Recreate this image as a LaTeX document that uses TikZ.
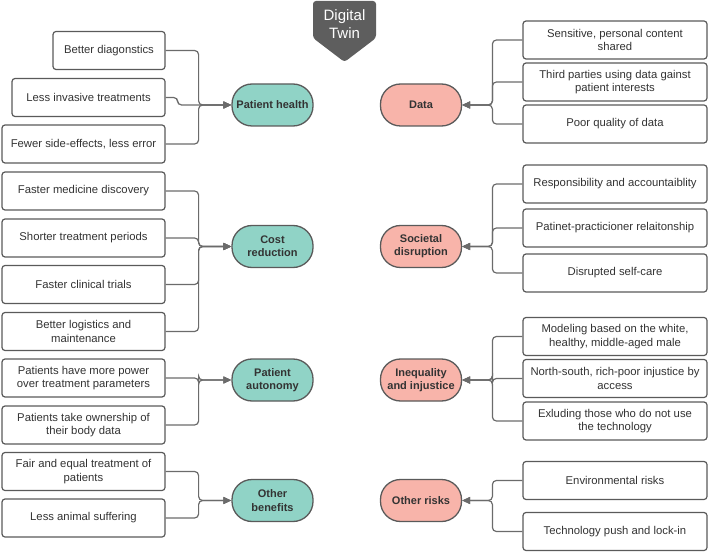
\documentclass[tikz,border=0pt]{standalone}
\usepackage{fontspec}
\setmainfont{Liberation Sans}
\usetikzlibrary{arrows.meta}
\definecolor{teal1}{HTML}{90D3C6}
\definecolor{pink1}{HTML}{F8B4AA}
\definecolor{edge}{HTML}{5A5A5A}
\definecolor{txt}{HTML}{333333}
\definecolor{dt}{HTML}{5E5E5E}
\begin{document}
\begin{tikzpicture}[x=1pt,y=-1pt,
 box/.style={draw=edge, line width=1.2pt, rounded corners=3pt, fill=white, minimum height=38pt, align=center, text=txt, font=\fontsize{11.3}{13.3}\selectfont, inner sep=2pt},
 lbox/.style={box, minimum width=163pt},
 rbox/.style={box, minimum width=184pt},
 pill/.style={draw=edge, line width=1.3pt, rounded corners=20pt, minimum width=81pt, minimum height=42pt, align=center, text=txt, font=\fontsize{11}{13.3}\selectfont\bfseries, inner sep=1pt},
 good/.style={pill, fill=teal1},
 bad/.style={pill, fill=pink1},
 conn/.style={draw=edge!90, line width=1.2pt, rounded corners=4pt, -{Triangle[length=8pt,width=7pt]}},
]
\useasboundingbox (0,0) rectangle (709,553);

% Digital Twin
\fill[dt, rounded corners=3pt] (313,38) -- (313,1) -- (376,1) -- (376,38) -- (344.5,62) -- cycle;
\node[text=white, align=center, font=\fontsize{15}{18}\selectfont] (dtw) at (344.5,24) {Digital\\Twin};

% pills
\node[good] (ph) at (272.5,105) {Patient health};
\node[good] (cr) at (272.5,246.5) {Cost\\reduction};
\node[good] (pa) at (272.5,380) {Patient\\autonomy};
\node[good] (ob) at (272.5,500.5) {Other\\benefits};
\node[bad] (da) at (421,105) {Data};
\node[bad] (sd) at (421,246.5) {Societal\\disruption};
\node[bad] (ii) at (421,380) {Inequality\\and injustice};
\node[bad] (or) at (421,500.5) {Other risks};

% left boxes
\node[box, minimum width=112pt] (l1) at (109,50.5) {Better diagonstics};
\node[box, minimum width=153pt] (l2) at (88.5,97.5) {Less invasive treatments};
\node[lbox] (l3) at (83.5,144) {Fewer side-effects, less error};
\node[lbox] (c1) at (83.5,191) {Faster medicine discovery};
\node[lbox] (c2) at (83.5,238) {Shorter treatment periods};
\node[lbox] (c3) at (83.5,284.5) {Faster clinical trials};
\node[lbox] (c4) at (83.5,331.5) {Better logistics and\\maintenance};
\node[lbox] (a1) at (83.5,378) {Patients have more power\\over treatment parameters};
\node[lbox] (a2) at (83.5,425) {Patients take ownership of\\their body data};
\node[lbox] (o1) at (83.5,471.5) {Fair and equal treatment of\\patients};
\node[lbox] (o2) at (83.5,518) {Less animal suffering};

% right boxes
\node[rbox] (d1) at (615,40) {Sensitive, personal content\\shared};
\node[rbox] (d2) at (615,82) {Third parties using data gainst\\patient interests};
\node[rbox] (d3) at (615,124) {Poor quality of data};
\node[rbox] (s1) at (615,184) {Responsibility and accountaiblity};
\node[rbox] (s2) at (615,228) {Patinet-practicioner relaitonship};
\node[rbox] (s3) at (615,273) {Disrupted self-care};
\node[rbox] (i1) at (615,336.5) {Modeling based on the white,\\healthy, middle-aged male};
\node[rbox] (i2) at (615,378.5) {North-south, rich-poor injustice by\\access};
\node[rbox] (i3) at (615,421) {Exluding those who do not use\\the technology};
\node[rbox] (r1) at (615,480.5) {Environmental risks};
\node[rbox] (r2) at (615,531.5) {Technology push and lock-in};

% left connectors
\draw[conn] (l1.east) -- ++(33,0) |- (ph.west);
\draw[conn] (l2.east) -- ++(12,0) |- (ph.west);
\draw[conn] (l3.east) -- ++(33,0) |- (ph.west);
\foreach \n in {c1,c2,c3,c4} \draw[conn] (\n.east) -- ++(33,0) |- (cr.west);
\foreach \n in {a1,a2} \draw[conn] (\n.east) -- ++(33,0) |- (pa.west);
\foreach \n in {o1,o2} \draw[conn] (\n.east) -- ++(33,0) |- (ob.west);

% right connectors
\foreach \n in {d1,d2,d3} \draw[conn] (\n.west) -- ++(-30,0) |- (da.east);
\foreach \n in {s1,s2,s3} \draw[conn] (\n.west) -- ++(-30,0) |- (sd.east);
\foreach \n in {i1,i2,i3} \draw[conn] (\n.west) -- ++(-30,0) |- (ii.east);
\foreach \n in {r1,r2} \draw[conn] (\n.west) -- ++(-30,0) |- (or.east);
\end{tikzpicture}
\end{document}
